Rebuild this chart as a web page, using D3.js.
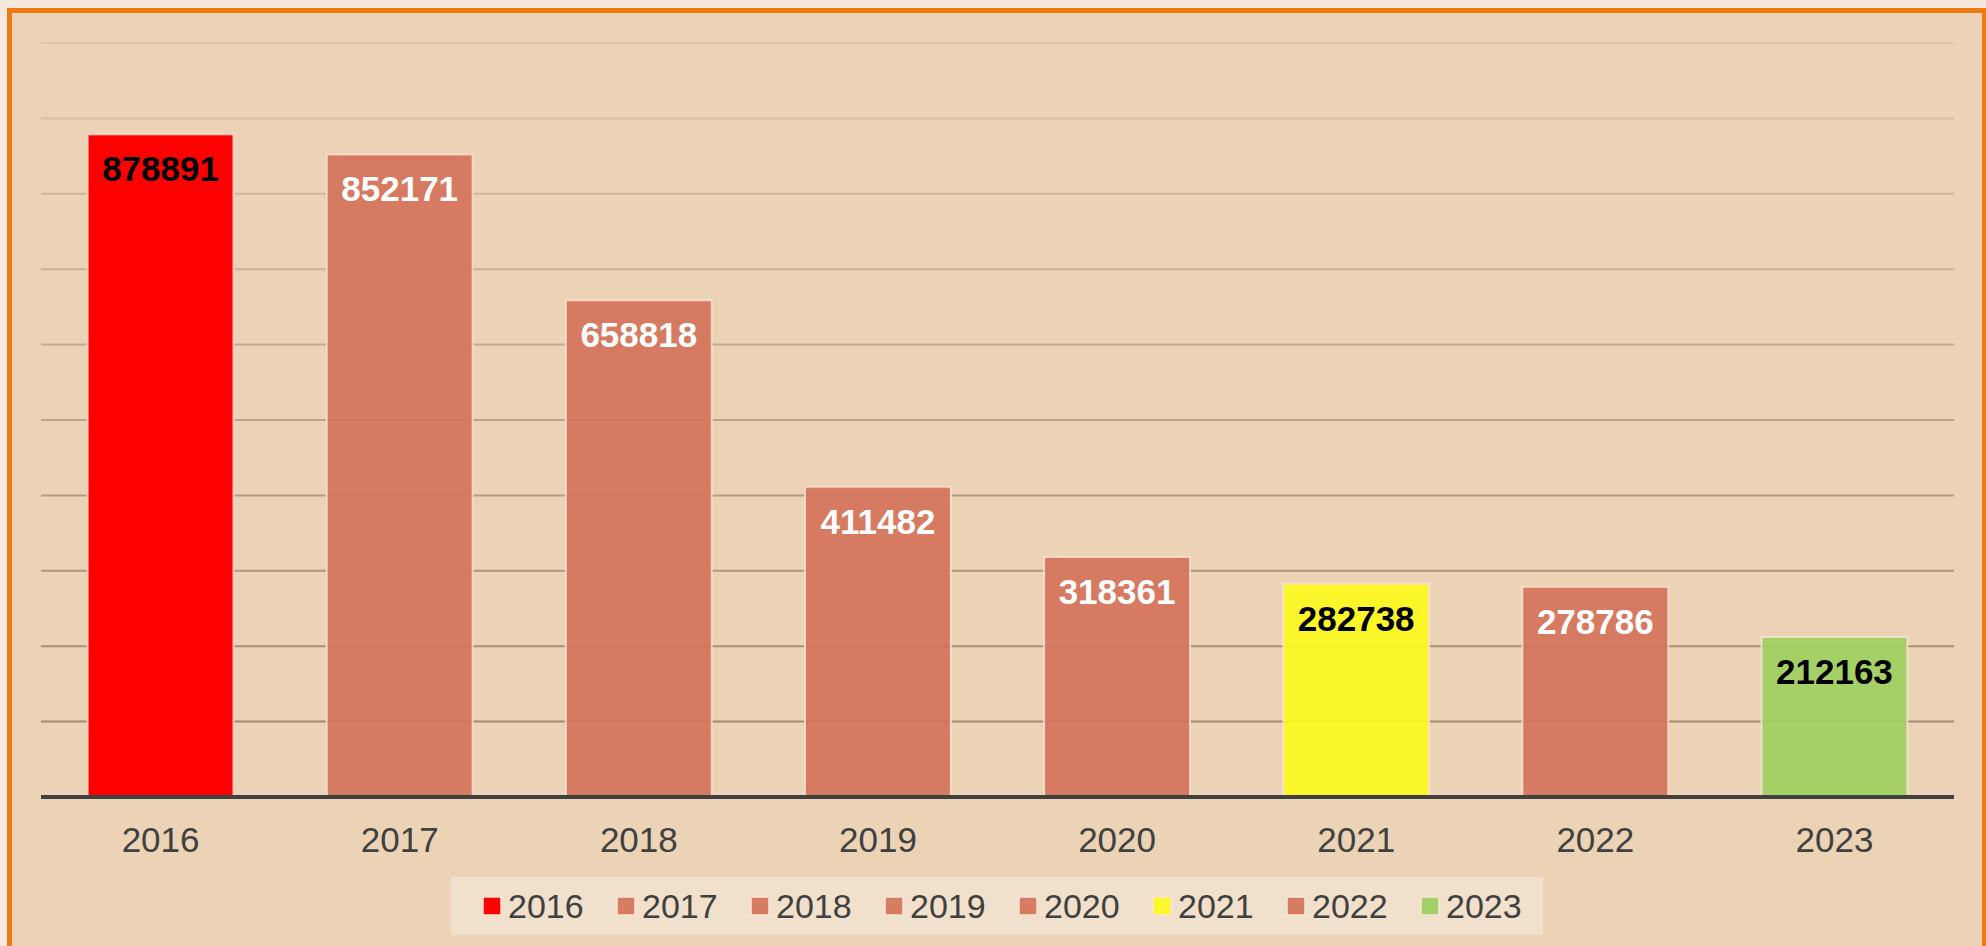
<!DOCTYPE html>
<html lang="en">
<head>
<meta charset="UTF-8">
<title>Bars by year</title>
<script src="https://d3js.org/d3.v7.min.js"></script>
<style>
    html, body { margin: 0; padding: 0; }
    body {
        width: 1986px; height: 946px; overflow: hidden;
        background: #f6e8dc;
        font-family: 'Liberation Sans', Arial, sans-serif;
    }
    .frame {
        position: absolute; left: 7px; top: 8px;
        width: 1970px; height: 960px;
        border: 5px solid #ef7913;
        background: #ecd3b5;
    }
    svg { position: absolute; left: 0; top: 0; }
</style>
</head>
<body>
<div class="frame"></div>
<div id="chart"></div>
<script>
    // data
    const years = ["2016", "2017", "2018", "2019", "2020", "2021", "2022", "2023"];
    const values = [878891, 852171, 658818, 411482, 318361, 282738, 278786, 212163];
    const barColors = ["#ff0000", "#d4735a", "#d4735a", "#d4735a", "#d4735a", "#fbf91d", "#d4735a", "#9dcf5e"];
    const labelColors = ["#000", "#fff", "#fff", "#fff", "#fff", "#000", "#fff", "#000"];
    const yTicks = [0, 100000, 200000, 300000, 400000, 500000, 600000, 700000, 800000, 900000, 1000000];

    const W = 1986, H = 946;
    const margin = { top: 43, left: 41, right: W - 1954, bottom: H - 797 };

    const svg = d3.select("#chart").append("svg")
        .attr("width", W).attr("height", H);

    const x = d3.scaleBand()
        .domain(years)
        .range([margin.left, W - margin.right])
        .paddingInner(0.39)
        .paddingOuter(0.195);

    const y = d3.scaleLinear()
        .domain([0, 1000000])
        .range([H - margin.bottom, margin.top]);

    // gridlines, fading out towards the top
    const gridColor = d3.scaleLinear()
        .domain([0, 1000000])
        .range(["#98836f", "#dcc4a8"]);

    svg.append("g")
        .selectAll("line")
        .data(yTicks.filter(d => d > 0))
        .join("line")
        .attr("x1", margin.left)
        .attr("x2", W - margin.right)
        .attr("y1", d => y(d))
        .attr("y2", d => y(d))
        .attr("stroke", d => gridColor(d))
        .attr("stroke-width", 2);

    // bars
    svg.append("g")
        .selectAll("rect")
        .data(values)
        .join("rect")
        .attr("x", (d, i) => x(years[i]))
        .attr("width", x.bandwidth())
        .attr("y", d => y(d))
        .attr("height", d => y(0) - y(d))
        .attr("fill", (d, i) => barColors[i])
        .attr("fill-opacity", (d, i) => i === 0 ? 1 : 0.92)
        .attr("stroke", "#fbe3d6")
        .attr("stroke-opacity", 0.8)
        .attr("stroke-width", 2);

    // value labels
    svg.append("g")
        .selectAll("text")
        .data(values)
        .join("text")
        .attr("x", (d, i) => x(years[i]) + x.bandwidth() / 2)
        .attr("y", d => y(d) + 47)
        .attr("text-anchor", "middle")
        .attr("font-size", 35)
        .attr("font-weight", "bold")
        .attr("fill", (d, i) => labelColors[i])
        .text(d => d);

    // x axis
    const xAxis = svg.append("g")
        .attr("transform", `translate(0,${y(0)})`)
        .call(d3.axisBottom(x).tickSize(0).tickPadding(0));
    xAxis.select(".domain")
        .attr("stroke", "#404040")
        .attr("stroke-width", 4)
        .attr("d", `M${margin.left},0H${W - margin.right}`);
    xAxis.selectAll(".tick text")
        .attr("dy", null)
        .attr("y", 55)
        .attr("font-size", 35)
        .attr("font-family", "'Liberation Sans', Arial, sans-serif")
        .attr("fill", "#404040");

    // legend
    const legend = svg.append("g");
    legend.append("rect")
        .attr("x", 451).attr("y", 877)
        .attr("width", 1092).attr("height", 58)
        .attr("fill", "#f0e0cc");

    const items = legend.selectAll("g.item")
        .data(years)
        .join("g")
        .attr("class", "item")
        .attr("transform", (d, i) => `translate(${483 + i * 134},0)`);
    items.append("rect")
        .attr("x", 0).attr("y", 897)
        .attr("width", 18).attr("height", 18)
        .attr("fill", (d, i) => barColors[i])
        .attr("fill-opacity", (d, i) => i === 0 ? 1 : 0.92)
        .attr("stroke", "#fbe3d6")
        .attr("stroke-width", 1.5);
    items.append("text")
        .attr("x", 25).attr("y", 918)
        .attr("font-size", 34)
        .attr("fill", "#404040")
        .text(d => d);
</script>
</body>
</html>
